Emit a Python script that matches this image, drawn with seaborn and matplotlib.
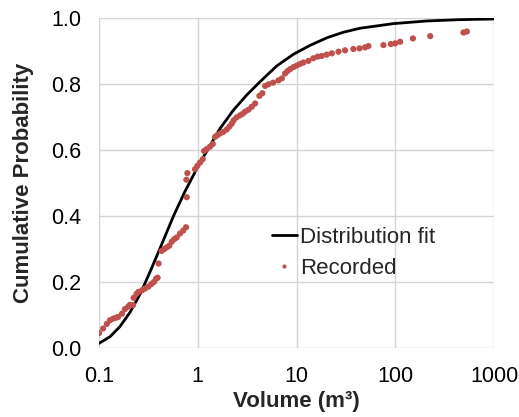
import matplotlib
matplotlib.use("Agg")
import matplotlib.pyplot as plt
import seaborn as sns
import pandas as pd
from matplotlib.lines import Line2D

# ---- data ----
fit_volume = [0.1, 0.129, 0.163, 0.206, 0.260, 0.296, 0.329, 0.415, 0.568, 0.744,
              0.984, 1.27, 1.68, 2.30, 3.14, 4.28, 6.32, 9.30, 13.7, 20.3,
              29.9, 44.1, 95.9, 209, 454, 1000]
fit_prob = [0.014, 0.034, 0.065, 0.108, 0.163, 0.200, 0.231, 0.302, 0.400, 0.475,
            0.545, 0.603, 0.665, 0.721, 0.767, 0.807, 0.855, 0.890, 0.917, 0.940,
            0.957, 0.969, 0.983, 0.991, 0.995, 0.997]

rec_volume = [0.100, 0.110, 0.120, 0.129, 0.139, 0.149, 0.156, 0.171, 0.183, 0.197,
              0.206, 0.221, 0.224, 0.240, 0.251, 0.273, 0.292, 0.317, 0.340, 0.360,
              0.378, 0.392, 0.401, 0.431, 0.459, 0.485, 0.515, 0.545, 0.579, 0.612,
              0.662, 0.714, 0.761, 0.774, 0.767, 0.785, 0.939, 0.991, 1.055, 1.124,
              1.159, 1.233, 1.332, 1.419, 1.497, 1.580, 1.682, 1.816, 1.967, 2.09,
              2.21, 2.31, 2.48, 2.68, 2.86, 3.01, 3.26, 3.52, 3.81, 4.21,
              4.51, 4.81, 5.19, 5.79, 6.56, 7.10, 7.66, 8.09, 8.61, 9.30,
              10.07, 10.88, 11.75, 13.2, 14.8, 16.4, 18.0, 20.2, 22.8, 26.6,
              31.0, 37.7, 43.4, 49.5, 53.5, 75.9, 90.2, 99.8, 112, 151,
              226, 491, 531]
rec_prob = [0.045, 0.059, 0.073, 0.084, 0.089, 0.092, 0.094, 0.104, 0.118, 0.125,
            0.131, 0.130, 0.152, 0.164, 0.170, 0.175, 0.180, 0.186, 0.194, 0.200,
            0.210, 0.213, 0.256, 0.294, 0.300, 0.305, 0.310, 0.322, 0.330, 0.335,
            0.347, 0.356, 0.366, 0.457, 0.510, 0.530, 0.542, 0.552, 0.562, 0.572,
            0.597, 0.603, 0.610, 0.618, 0.640, 0.645, 0.650, 0.655, 0.662, 0.671,
            0.680, 0.690, 0.699, 0.705, 0.710, 0.716, 0.722, 0.731, 0.741, 0.764,
            0.772, 0.794, 0.799, 0.804, 0.811, 0.817, 0.832, 0.839, 0.845, 0.851,
            0.856, 0.861, 0.865, 0.870, 0.878, 0.883, 0.885, 0.889, 0.893, 0.898,
            0.902, 0.906, 0.908, 0.911, 0.915, 0.918, 0.921, 0.923, 0.928, 0.938,
            0.945, 0.956, 0.959]

x_ticks = [0.1, 1, 10, 100, 1000]
x_tick_labels = ["0.1", "1", "10", "100", "1000"]
y_ticks = [0.0, 0.2, 0.4, 0.6, 0.8, 1.0]
y_tick_labels = ["0.0", "0.2", "0.4", "0.6", "0.8", "1.0"]

fit_df = pd.DataFrame({"Volume": fit_volume, "Probability": fit_prob})
rec_df = pd.DataFrame({"Volume": rec_volume, "Probability": rec_prob})

sns.set_style("white")
plt.rcParams["font.family"] = ["Liberation Sans", "DejaVu Sans"]

RED = "#C0504D"
GRID = "#D4D4D4"

fig = plt.figure(figsize=(5.19, 4.17), dpi=100)
ax = fig.add_axes([99 / 519, 1 - 348 / 417, (494 - 99) / 519, (348 - 18) / 417])

sns.lineplot(data=fit_df, x="Volume", y="Probability", ax=ax, color="black",
             linewidth=2.0, zorder=3, legend=False)
sns.scatterplot(data=rec_df, x="Volume", y="Probability", ax=ax, color=RED,
                s=20, edgecolor="none", zorder=4, legend=False)

ax.set_xscale("log")
ax.set_xlim(0.1, 1000)
ax.set_ylim(0, 1)
ax.set_xticks(x_ticks)
ax.set_xticklabels(x_tick_labels)
ax.set_yticks(y_ticks)
ax.set_yticklabels(y_tick_labels)
ax.minorticks_off()

ax.grid(True, color=GRID, linewidth=1.0, zorder=0)
ax.set_axisbelow(True)
for sp in ax.spines.values():
    sp.set_visible(False)

ax.tick_params(axis="both", which="major", length=5, width=1.0, color=GRID,
               labelsize=15.5, labelcolor="black")
ax.tick_params(axis="y", pad=8)
ax.tick_params(axis="x", pad=8)

ax.set_xlabel("Volume (m³)", fontsize=16, fontweight="bold", labelpad=3)
ax.set_ylabel("Cumulative Probability", fontsize=16, fontweight="bold", labelpad=12)

handles = [Line2D([0], [0], color="black", linewidth=2.0),
           Line2D([0], [0], marker="o", linestyle="none", color=RED,
                  markersize=3, markeredgewidth=0)]
ax.legend(handles, ["Distribution fit", "Recorded"], loc="upper left",
          bbox_to_anchor=(0.415, 0.395), frameon=False, fontsize=16,
          handlelength=1.13, handletextpad=0.15, labelspacing=0.45,
          borderaxespad=0)

fig.savefig("out.png", dpi=100)
